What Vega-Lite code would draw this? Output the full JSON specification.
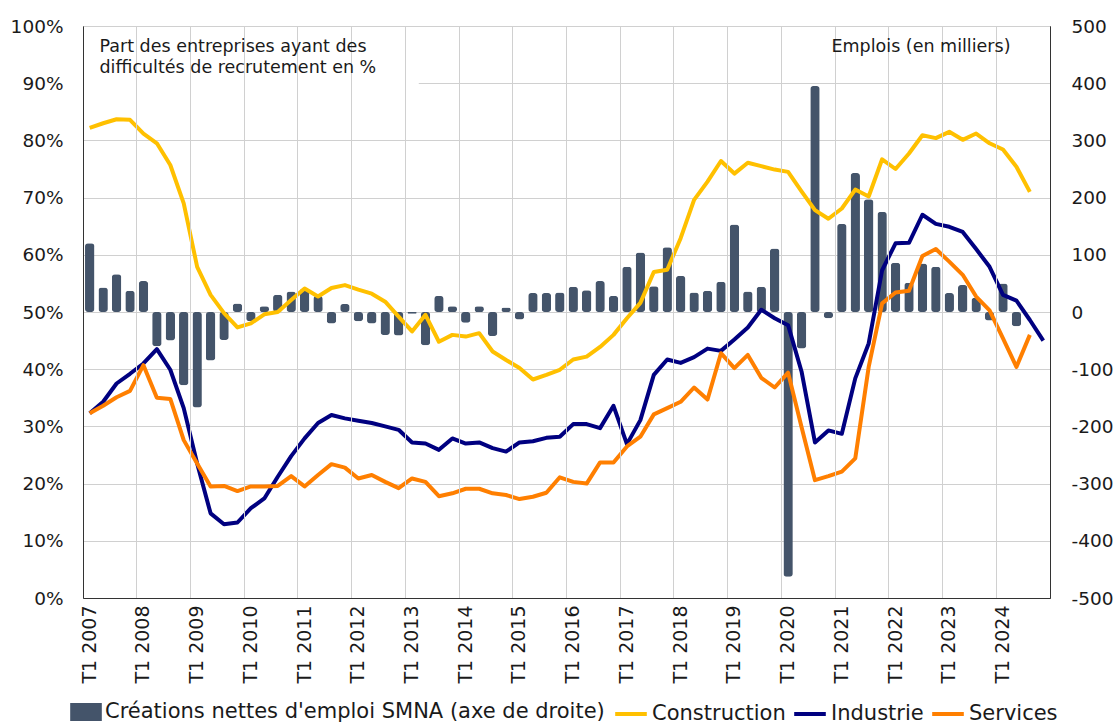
{
  "$schema": "https://vega.github.io/schema/vega-lite/v6.json",
  "width": 967,
  "height": 572,
  "autosize": {"type": "none"},
  "padding": {"left": 83, "top": 26, "right": 69, "bottom": 126},
  "background": "white",
  "config": {
    "font": "DejaVu Sans",
    "view": {"stroke": "#333333", "strokeWidth": 1},
    "axis": {"labelFont": "DejaVu Sans", "titleFont": "DejaVu Sans", "labelColor": "#1a1a1a", "titleColor": "#1a1a1a", "gridColor": "#d0d0d0", "gridWidth": 1, "domainColor": "#333333", "domainWidth": 1},
    "legend": {"labelFont": "DejaVu Sans", "labelColor": "#1a1a1a"}
  },
  "datasets": {
    "d": [
      {"q": "T1 2007", "Construction": 82.2, "Industrie": 32.3, "Services": 32.3, "emplois": 120},
      {"q": "T2 2007", "Construction": 83.0, "Industrie": 34.3, "Services": 33.6, "emplois": 43},
      {"q": "T3 2007", "Construction": 83.7, "Industrie": 37.5, "Services": 35.1, "emplois": 66},
      {"q": "T4 2007", "Construction": 83.6, "Industrie": 39.2, "Services": 36.2, "emplois": 37},
      {"q": "T1 2008", "Construction": 81.2, "Industrie": 41.0, "Services": 40.7, "emplois": 54},
      {"q": "T2 2008", "Construction": 79.5, "Industrie": 43.5, "Services": 35.0, "emplois": -60},
      {"q": "T3 2008", "Construction": 75.7, "Industrie": 39.9, "Services": 34.8, "emplois": -50},
      {"q": "T4 2008", "Construction": 69.0, "Industrie": 33.2, "Services": 27.6, "emplois": -128},
      {"q": "T1 2009", "Construction": 57.9, "Industrie": 23.5, "Services": 23.5, "emplois": -167},
      {"q": "T2 2009", "Construction": 53.0, "Industrie": 14.8, "Services": 19.5, "emplois": -85},
      {"q": "T3 2009", "Construction": 49.8, "Industrie": 12.9, "Services": 19.6, "emplois": -49},
      {"q": "T4 2009", "Construction": 47.3, "Industrie": 13.2, "Services": 18.7, "emplois": 15},
      {"q": "T1 2010", "Construction": 48.0, "Industrie": 15.7, "Services": 19.5, "emplois": -16},
      {"q": "T2 2010", "Construction": 49.6, "Industrie": 17.4, "Services": 19.5, "emplois": 10},
      {"q": "T3 2010", "Construction": 50.0, "Industrie": 21.2, "Services": 19.6, "emplois": 30},
      {"q": "T4 2010", "Construction": 52.1, "Industrie": 24.8, "Services": 21.3, "emplois": 36},
      {"q": "T1 2011", "Construction": 54.1, "Industrie": 27.9, "Services": 19.5, "emplois": 41},
      {"q": "T2 2011", "Construction": 52.7, "Industrie": 30.6, "Services": 21.5, "emplois": 28},
      {"q": "T3 2011", "Construction": 54.2, "Industrie": 32.0, "Services": 23.4, "emplois": -20},
      {"q": "T4 2011", "Construction": 54.7, "Industrie": 31.4, "Services": 22.8, "emplois": 14},
      {"q": "T1 2012", "Construction": 53.9, "Industrie": 31.0, "Services": 20.9, "emplois": -16},
      {"q": "T2 2012", "Construction": 53.2, "Industrie": 30.6, "Services": 21.5, "emplois": -20},
      {"q": "T3 2012", "Construction": 51.8, "Industrie": 30.0, "Services": 20.3, "emplois": -40},
      {"q": "T4 2012", "Construction": 49.2, "Industrie": 29.4, "Services": 19.2, "emplois": -41},
      {"q": "T1 2013", "Construction": 46.6, "Industrie": 27.2, "Services": 20.9, "emplois": -3},
      {"q": "T2 2013", "Construction": 49.5, "Industrie": 27.0, "Services": 20.3, "emplois": -58},
      {"q": "T3 2013", "Construction": 44.8, "Industrie": 25.9, "Services": 17.8, "emplois": 28},
      {"q": "T4 2013", "Construction": 46.0, "Industrie": 27.9, "Services": 18.3, "emplois": 10},
      {"q": "T1 2014", "Construction": 45.7, "Industrie": 27.0, "Services": 19.1, "emplois": -19},
      {"q": "T2 2014", "Construction": 46.3, "Industrie": 27.2, "Services": 19.1, "emplois": 10},
      {"q": "T3 2014", "Construction": 43.1, "Industrie": 26.2, "Services": 18.3, "emplois": -42},
      {"q": "T4 2014", "Construction": 41.6, "Industrie": 25.6, "Services": 18.0, "emplois": 8},
      {"q": "T1 2015", "Construction": 40.2, "Industrie": 27.2, "Services": 17.3, "emplois": -13},
      {"q": "T2 2015", "Construction": 38.2, "Industrie": 27.4, "Services": 17.7, "emplois": 33},
      {"q": "T3 2015", "Construction": 39.0, "Industrie": 28.0, "Services": 18.4, "emplois": 33},
      {"q": "T4 2015", "Construction": 39.9, "Industrie": 28.2, "Services": 21.1, "emplois": 34},
      {"q": "T1 2016", "Construction": 41.7, "Industrie": 30.4, "Services": 20.3, "emplois": 44},
      {"q": "T2 2016", "Construction": 42.2, "Industrie": 30.4, "Services": 20.0, "emplois": 38},
      {"q": "T3 2016", "Construction": 43.9, "Industrie": 29.7, "Services": 23.7, "emplois": 54},
      {"q": "T4 2016", "Construction": 46.0, "Industrie": 33.6, "Services": 23.7, "emplois": 28},
      {"q": "T1 2017", "Construction": 48.9, "Industrie": 26.9, "Services": 26.5, "emplois": 79},
      {"q": "T2 2017", "Construction": 51.6, "Industrie": 31.1, "Services": 28.2, "emplois": 104},
      {"q": "T3 2017", "Construction": 57.0, "Industrie": 39.0, "Services": 32.1, "emplois": 45},
      {"q": "T4 2017", "Construction": 57.4, "Industrie": 41.7, "Services": 33.2, "emplois": 113},
      {"q": "T1 2018", "Construction": 62.9, "Industrie": 41.1, "Services": 34.3, "emplois": 63},
      {"q": "T2 2018", "Construction": 69.6, "Industrie": 42.1, "Services": 36.8, "emplois": 34},
      {"q": "T3 2018", "Construction": 72.8, "Industrie": 43.6, "Services": 34.7, "emplois": 37},
      {"q": "T4 2018", "Construction": 76.4, "Industrie": 43.2, "Services": 42.8, "emplois": 53},
      {"q": "T1 2019", "Construction": 74.2, "Industrie": 45.2, "Services": 40.2, "emplois": 153},
      {"q": "T2 2019", "Construction": 76.1, "Industrie": 47.3, "Services": 42.5, "emplois": 36},
      {"q": "T3 2019", "Construction": 75.5, "Industrie": 50.4, "Services": 38.5, "emplois": 44},
      {"q": "T4 2019", "Construction": 74.9, "Industrie": 48.9, "Services": 36.8, "emplois": 111},
      {"q": "T1 2020", "Construction": 74.5, "Industrie": 47.7, "Services": 39.4, "emplois": -463},
      {"q": "T2 2020", "Construction": 71.1, "Industrie": 39.6, "Services": 29.9, "emplois": -64},
      {"q": "T3 2020", "Construction": 67.8, "Industrie": 27.2, "Services": 20.6, "emplois": 395},
      {"q": "T4 2020", "Construction": 66.3, "Industrie": 29.3, "Services": 21.3, "emplois": -11},
      {"q": "T1 2021", "Construction": 68.1, "Industrie": 28.7, "Services": 22.1, "emplois": 154},
      {"q": "T2 2021", "Construction": 71.4, "Industrie": 38.4, "Services": 24.4, "emplois": 243},
      {"q": "T3 2021", "Construction": 70.2, "Industrie": 44.5, "Services": 40.4, "emplois": 197},
      {"q": "T4 2021", "Construction": 76.7, "Industrie": 57.3, "Services": 51.5, "emplois": 175},
      {"q": "T1 2022", "Construction": 75.0, "Industrie": 62.0, "Services": 53.4, "emplois": 86},
      {"q": "T2 2022", "Construction": 77.7, "Industrie": 62.1, "Services": 53.7, "emplois": 51},
      {"q": "T3 2022", "Construction": 80.9, "Industrie": 67.0, "Services": 59.8, "emplois": 85},
      {"q": "T4 2022", "Construction": 80.4, "Industrie": 65.4, "Services": 61.0, "emplois": 79},
      {"q": "T1 2023", "Construction": 81.5, "Industrie": 64.9, "Services": 58.8, "emplois": 33},
      {"q": "T2 2023", "Construction": 80.1, "Industrie": 64.0, "Services": 56.5, "emplois": 47},
      {"q": "T3 2023", "Construction": 81.2, "Industrie": 61.0, "Services": 52.7, "emplois": 25},
      {"q": "T4 2023", "Construction": 79.5, "Industrie": 57.9, "Services": 50.3, "emplois": -15},
      {"q": "T1 2024", "Construction": 78.4, "Industrie": 53.0, "Services": 45.4, "emplois": 50},
      {"q": "T2 2024", "Construction": 75.4, "Industrie": 52.0, "Services": 40.4, "emplois": -25},
      {"q": "T3 2024", "Construction": 71.0, "Industrie": 48.6, "Services": 46.0, "emplois": null},
      {"q": "T4 2024", "Construction": null, "Industrie": 45.0, "Services": null, "emplois": null}
    ]
  },
  "data": {"name": "d"},
  "encoding": {
    "x": {
      "field": "q",
      "type": "ordinal",
      "sort": null,
      "scale": {
        "paddingInner": 0,
        "paddingOuter": 0,
        "domain": ["T1 2007","T2 2007","T3 2007","T4 2007","T1 2008","T2 2008","T3 2008","T4 2008","T1 2009","T2 2009","T3 2009","T4 2009","T1 2010","T2 2010","T3 2010","T4 2010","T1 2011","T2 2011","T3 2011","T4 2011","T1 2012","T2 2012","T3 2012","T4 2012","T1 2013","T2 2013","T3 2013","T4 2013","T1 2014","T2 2014","T3 2014","T4 2014","T1 2015","T2 2015","T3 2015","T4 2015","T1 2016","T2 2016","T3 2016","T4 2016","T1 2017","T2 2017","T3 2017","T4 2017","T1 2018","T2 2018","T3 2018","T4 2018","T1 2019","T2 2019","T3 2019","T4 2019","T1 2020","T2 2020","T3 2020","T4 2020","T1 2021","T2 2021","T3 2021","T4 2021","T1 2022","T2 2022","T3 2022","T4 2022","T1 2023","T2 2023","T3 2023","T4 2023","T1 2024","T2 2024","T3 2024","T4 2024"]
      },
      "axis": {
        "values": ["T1 2007","T1 2008","T1 2009","T1 2010","T1 2011","T1 2012","T1 2013","T1 2014","T1 2015","T1 2016","T1 2017","T1 2018","T1 2019","T1 2020","T1 2021","T1 2022","T1 2023","T1 2024"],
        "bandPosition": 0,
        "grid": true,
        "ticks": false,
        "domain": true,
        "labelAngle": -90,
        "labelAlign": "right",
        "labelBaseline": "middle",
        "labelPadding": 7,
        "labelFontSize": 19,
        "labelOverlap": false,
        "title": null
      }
    }
  },
  "layer": [
    {
      "data": {"values": [{}]},
      "mark": {"type": "rect", "fill": "white", "strokeWidth": 0},
      "encoding": {
        "x": {"datum": "T1 2007", "type": "ordinal", "bandPosition": 0, "axis": {"title": null}},
        "x2": {"datum": "T2 2013", "bandPosition": 0},
        "y": {
          "datum": 99.8,
          "type": "quantitative",
          "scale": {"domain": [0, 100], "nice": false},
          "axis": {"orient": "left", "values": [0, 10, 20, 30, 40, 50, 60, 70, 80, 90, 100], "grid": true, "labels": false, "ticks": false, "domain": false, "title": null, "zindex": 0}
        },
        "y2": {"datum": 89.3}
      }
    },
    {
      "data": {"values": [{}]},
      "mark": {"type": "rect", "fill": "white", "strokeWidth": 0},
      "encoding": {
        "x": {"datum": "T2 2020", "type": "ordinal", "bandPosition": 0, "axis": {"title": null}},
        "x2": {"datum": "T4 2024", "bandPosition": 0},
        "y": {"datum": 99.8, "type": "quantitative", "scale": {"domain": [0, 100], "nice": false}, "axis": null},
        "y2": {"datum": 93.0}
      }
    },
    {
      "mark": {"type": "bar", "width": {"band": 0.7}, "cornerRadius": 3},
      "encoding": {
        "y": {
          "field": "emplois",
          "type": "quantitative",
          "scale": {"domain": [-500, 500], "nice": false},
          "axis": {
            "orient": "right",
            "zindex": 1,
            "values": [-500, -400, -300, -200, -100, 0, 100, 200, 300, 400, 500],
            "grid": false,
            "ticks": false,
            "labelPadding": 21,
            "labelFontSize": 18.5,
            "labelExpr": "'' + datum.value",
            "title": "Emplois (en milliers)",
            "titleAngle": 0,
            "titleAlign": "right",
            "titleBaseline": "top",
            "titleX": -40,
            "titleY": 11,
            "titleFontSize": 17.5,
            "titleFontWeight": "normal"
          }
        },
        "fill": {
          "datum": "Créations nettes d'emploi SMNA (axe de droite)",
          "type": "nominal",
          "scale": {"range": ["#44546A"]},
          "legend": {
            "orient": "none",
            "legendX": -13,
            "legendY": 670,
            "direction": "horizontal",
            "title": null,
            "labelFontSize": 21,
            "labelOffset": 3,
            "labelLimit": 0,
            "symbolType": "M-1,-0.57H1V0.57H-1Z",
            "symbolSize": 1000,
            "symbolStrokeWidth": 0,
            "symbolOpacity": 1,
            "padding": 0
          }
        }
      }
    },
    {
      "transform": [{"fold": ["Construction", "Industrie", "Services"], "as": ["serie", "pct"]}],
      "mark": {"type": "line", "strokeWidth": 4, "strokeJoin": "round"},
      "encoding": {
        "y": {
          "field": "pct",
          "type": "quantitative",
          "scale": {"domain": [0, 100], "nice": false},
          "axis": {
            "orient": "left",
            "zindex": 1,
            "values": [0, 10, 20, 30, 40, 50, 60, 70, 80, 90, 100],
            "grid": false,
            "ticks": false,
            "labelPadding": 20,
            "labelFontSize": 18.5,
            "labelExpr": "datum.value + '%'",
            "title": ["Part des entreprises ayant des", "difficultés de recrutement en %"],
            "titleAngle": 0,
            "titleAlign": "left",
            "titleBaseline": "top",
            "titleX": 16,
            "titleY": 11,
            "titleFontSize": 17.5,
            "titleFontWeight": "normal",
            "titleLineHeight": 21.5
          }
        },
        "stroke": {
          "field": "serie",
          "type": "nominal",
          "scale": {"domain": ["Construction", "Industrie", "Services"], "range": ["#FFC000", "#000080", "#FF7F00"]},
          "legend": {
            "orient": "none",
            "legendX": 530,
            "legendY": 670,
            "direction": "horizontal",
            "title": null,
            "labelFontSize": 21,
            "labelOffset": 3,
            "labelLimit": 0,
            "columnPadding": 0,
            "symbolType": "stroke",
            "symbolSize": 1000,
            "symbolStrokeWidth": 4,
            "padding": 0
          }
        }
      }
    }
  ],
  "resolve": {"scale": {"y": "independent"}}
}
